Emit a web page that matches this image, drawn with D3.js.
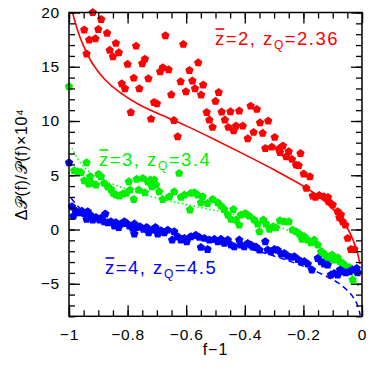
<!DOCTYPE html>
<html><head><meta charset="utf-8">
<script src="https://cdn.jsdelivr.net/npm/d3@7"></script>
<style>html,body{margin:0;padding:0;background:#fff;}svg{display:block;}</style>
</head><body>
<script>
// ---- data (x = f-1, y = ΔP/P ×10^4) ----
const xMajorTicks = [-1, -0.8, -0.6, -0.4, -0.2, 0];
const yMajorTicks = [-5, 0, 5, 10, 15, 20];
const legendLabels = [
  {zbar: "2", zq: "2.36", color: "#ff0000"},
  {zbar: "3", zq: "3.4", color: "#00f000"},
  {zbar: "4", zq: "4.5", color: "#0000ff"}
];
const redPoints = [[-0.919,20.0],[-0.89,19.37],[-0.948,18.4],[-0.9,18.45],[-0.87,18.1],[-0.931,17.47],[-0.91,17.59],[-0.84,17.16],[-0.861,16.52],[-0.83,16.3],[-0.85,15.93],[-0.94,16.18],[-0.771,16.91],[-0.671,17.86],[-0.8,15.23],[-0.741,15.71],[-0.75,15.28],[-0.68,14.91],[-0.689,14.54],[-0.66,14.73],[-0.779,13.96],[-0.729,13.9],[-0.82,13.44],[-0.809,12.98],[-0.76,12.98],[-0.651,12.42],[-0.71,11.72],[-0.7,11.6],[-0.789,10.8],
[-0.61,17.07],[-0.559,15.37],[-0.589,14.67],[-0.619,13.62],[-0.579,13.69],[-0.542,13.32],[-0.601,12.7],[-0.57,12.98],[-0.549,12.4],[-0.489,12.64],[-0.5,11.82],[-0.38,11.38],[-0.359,11.08],[-0.53,10.8],[-0.479,10.83],[-0.449,10.86],[-0.419,10.92],[-0.72,10.18],[-0.642,10.05],[-0.629,8.55],[-0.521,10.09],[-0.468,10.09],[-0.51,9.42],[-0.456,9.42],[-0.43,9.54],[-0.407,9.54],[-0.348,9.84],[-0.32,10.0],[-0.438,9.1],
[-0.298,8.5],[-0.37,8.96],[-0.39,8.37],[-0.339,8.87],[-0.33,7.48],[-0.308,7.6],[-0.284,7.42],[-0.27,7.7],[-0.28,7.11],[-0.259,6.71],[-0.25,7.17],[-0.239,6.47],[-0.225,5.94],[-0.216,5.9],[-0.21,7.02],[-0.199,5.12],[-0.178,4.87],[-0.19,3.8],[-0.168,3.09],[-0.146,3.15],[-0.13,3.02],[-0.116,2.97],[-0.159,2.97],[-0.114,2.56],[-0.1,2.26],[-0.083,1.64],[-0.072,1.34],[-0.077,1.09],[-0.066,0.72],[-0.057,0.41],[-0.049,-0.81],[-0.038,-1.83],[-0.026,-1.83]];
const greenPoints = [[-1.0,13.16],[-0.94,6.16],[-0.982,5.42],[-0.97,5.33],[-0.959,5.27],[-0.948,4.5],[-0.928,4.87],[-0.899,5.09],[-0.891,4.87],[-0.922,4.26],[-0.908,4.1],[-0.933,4.19],[-0.88,4.26],[-0.868,3.95],[-0.857,3.7],[-0.849,3.34],[-0.84,3.18],[-0.828,3.09],[-0.817,3.27],[-0.805,3.34],[-0.796,4.41],[-0.792,3.64],[-0.779,2.78],[-0.769,4.63],[-0.762,3.64],[-0.748,4.72],[-0.741,3.39],[-0.731,4.38],[-0.722,4.56],[-0.717,3.95],[-0.709,4.56],[-0.703,4.1],[-0.692,3.48],[-0.68,2.78],[-0.658,3.02],[-0.641,3.48],[-0.624,5.18],[-0.618,2.97],[-0.606,3.18],[-0.587,1.8],
[-0.584,3.34],[-0.572,3.39],[-0.561,3.18],[-0.55,2.47],[-0.544,3.02],[-0.527,2.41],[-0.51,2.78],[-0.492,2.47],[-0.481,2.16],[-0.47,1.86],[-0.458,1.34],[-0.439,1.86],[-0.447,0.94],[-0.43,0.88],[-0.419,0.41],[-0.413,1.34],[-0.398,1.49],[-0.385,1.24],[-0.368,0.88],[-0.356,0.51],[-0.35,-0.2],[-0.337,0.88],[-0.328,0.51],[-0.316,0.02],[-0.303,0.26],[-0.294,0.17],[-0.28,0.81],[-0.265,0.72],[-0.25,0.72],[-0.237,-0.05],[-0.225,-0.2],[-0.214,-0.41],[-0.205,-0.9],[-0.197,-0.66],[-0.185,-0.97],[-0.174,-1.22],[-0.163,-0.97],[-0.151,-1.43],[-0.14,-2.05],[-0.132,-2.2],[-0.123,-2.44],[-0.112,-2.66],[-0.102,-2.35],[-0.095,-2.81],[-0.083,-2.6],[-0.075,-2.97],[-0.066,-3.12],[-0.057,-3.36],[-0.043,-3.49],[-0.032,-4.65],[-0.123,-2.9],[-0.018,-3.89]];
const bluePoints = [[-1.0,6.16],[-0.99,2.1],[-0.978,1.73],[-0.985,1.24],[-0.965,1.55],[-0.956,1.7],[-0.948,1.49],[-0.936,1.64],[-0.94,0.94],[-0.928,1.34],[-0.919,0.88],[-0.908,1.12],[-0.896,0.88],[-0.887,1.12],[-0.876,1.43],[-0.88,0.72],[-0.868,0.63],[-0.857,0.72],[-0.845,0.32],[-0.84,0.63],[-0.83,0.2],[-0.823,0.51],[-0.811,0.72],[-0.803,0.57],[-0.794,0.32],[-0.783,0.11],[-0.777,0.51],[-0.769,0.2],[-0.777,-0.41],[-0.758,0.26],[-0.746,0.02],[-0.735,0.2],[-0.728,-0.3],[-0.717,-0.05],[-0.705,0.2],[-0.697,-0.41],[-0.686,-0.11],[-0.675,-0.3],[-0.663,-0.05],[-0.648,-0.97],[-0.641,-0.2],[-0.629,-0.66],[-0.618,-0.97],[-0.606,-0.81],[-0.598,-1.12],
[-0.584,-0.66],[-0.567,-0.51],[-0.555,-0.72],[-0.55,-1.64],[-0.538,-0.81],[-0.527,-1.83],[-0.521,-0.97],[-0.504,-0.9],[-0.492,-1.12],[-0.481,-0.9],[-0.47,-1.27],[-0.458,-0.97],[-0.447,-1.43],[-0.436,-1.58],[-0.419,-0.97],[-0.413,-1.43],[-0.402,-1.58],[-0.39,-1.27],[-0.379,-1.43],[-0.373,-1.58],[-0.362,-1.6],[-0.35,-1.89],[-0.33,-1.12],[-0.322,-1.89],[-0.311,-2.05],[-0.299,-1.83],[-0.288,-1.9],[-0.276,-2.26],[-0.265,-2.2],[-0.254,-2.44],[-0.242,-2.56],[-0.231,-2.5],[-0.219,-2.75],[-0.208,-2.97],[-0.197,-2.95],[-0.185,-3.18],[-0.171,-3.73],[-0.151,-2.66],[-0.14,-2.97],[-0.129,-3.18],[-0.117,-3.27],[-0.106,-4.19],[-0.095,-4.04],[-0.083,-4.19],[-0.075,-3.73],[-0.066,-3.89],[-0.055,-3.98],[-0.043,-3.89],[-0.032,-3.73],[-0.018,-3.58],[-0.015,-3.98]];
const redCurve = [[-0.988,20],[-0.97,18.3],[-0.95,16.9],[-0.92,15.3],[-0.88,13.9],[-0.83,12.7],[-0.76,11.5],[-0.68,10.5],[-0.6,9.55],[-0.5,8.25],[-0.4,6.9],[-0.3,5.5],[-0.2,4.0],[-0.15,3.1],[-0.1,1.9],[-0.06,0.6],[-0.03,-1.0],[-0.015,-2.2],[-0.007,-3.2]];
const greenCurve = [[-0.99,7.5],[-0.96,6.1],[-0.92,5.1],[-0.86,4.3],[-0.8,3.7],[-0.7,2.9],[-0.6,2.3],[-0.5,1.75],[-0.4,1.15],[-0.3,0.35],[-0.25,-0.1],[-0.2,-0.7],[-0.15,-1.5],[-0.1,-2.45],[-0.06,-3.3],[-0.03,-4.3],[-0.01,-5.4]];
const blueCurve = [[-0.993,2.9],[-0.96,1.9],[-0.9,1.0],[-0.8,0.3],[-0.7,-0.2],[-0.6,-0.65],[-0.49,-1.25],[-0.37,-1.9],[-0.26,-2.8],[-0.15,-3.95],[-0.08,-4.95],[-0.04,-5.9],[-0.018,-6.8],[-0.006,-7.9]];

// ---- layout ----
const W = 374, H = 374;
const L = 69, R = 362, T = 12.5, B = 316.3;
const x = d3.scaleLinear().domain([-1, 0]).range([L, R]);
const y = d3.scaleLinear().domain([-8, 20]).range([B, T]);

const svg = d3.select("body").append("svg").attr("width", W).attr("height", H);

svg.append("clipPath").attr("id", "clip").append("rect")
  .attr("x", L).attr("y", T).attr("width", R - L).attr("height", B - T);

// pentagon symbol
const pentagon = {
  draw(ctx, size) {
    const r = Math.sqrt(size / 2.378);
    for (let k = 0; k < 5; k++) {
      const a = -Math.PI / 2 + k * 2 * Math.PI / 5;
      const px = r * Math.cos(a), py = r * Math.sin(a);
      if (k === 0) ctx.moveTo(px, py); else ctx.lineTo(px, py);
    }
    ctx.closePath();
  }
};
const sym = d3.symbol().type(pentagon).size(2.378 * 4.4 * 4.4);

const line = d3.line().x(d => x(d[0])).y(d => y(d[1])).curve(d3.curveCatmullRom.alpha(0.5));

const series = [
  {pts: redPoints, curve: redCurve, color: "#ff0000", dash: null, w: 1.6},
  {pts: greenPoints, curve: greenCurve, color: "#00f000", dash: "1.5,2.5", w: 1.4},
  {pts: bluePoints, curve: blueCurve, color: "#0000ff", dash: "6,4", w: 1.5}
];

series.forEach(s => {
  svg.append("path").datum(s.curve)
    .attr("clip-path", "url(#clip)")
    .attr("d", line).attr("fill", "none")
    .attr("stroke", s.color).attr("stroke-width", s.w)
    .attr("stroke-dasharray", s.dash);
});
series.forEach(s => {
  svg.append("g").selectAll("path").data(s.pts).join("path")
    .attr("d", sym)
    .attr("transform", d => `translate(${x(d[0])},${y(d[1])})`)
    .attr("fill", s.color);
});

// ---- axes ----
const fmt = d => d3.format("")(d);
const xMinor = d3.range(-1, 0.001, 0.05).map(v => +v.toFixed(2));
const yMinor = d3.range(-8, 20.001, 1);
const font = "'Liberation Sans', Arial, sans-serif";

function styleAxis(g) {
  g.select(".domain").remove();
  g.selectAll("line").attr("stroke", "#000").attr("stroke-width", 1.3);
  g.selectAll("text").attr("font-family", font).attr("font-size", 15.5).attr("fill", "#000").attr("letter-spacing", 0.8);
}

svg.append("g").attr("transform", `translate(0,${B})`)
  .call(d3.axisBottom(x).tickValues(xMinor).tickSize(-6).tickFormat("")).call(styleAxis);
svg.append("g").attr("transform", `translate(0,${B})`)
  .call(d3.axisBottom(x).tickValues(xMajorTicks).tickSize(-11).tickPadding(13).tickFormat(fmt)).call(styleAxis);
svg.append("g").attr("transform", `translate(0,${T})`)
  .call(d3.axisTop(x).tickValues(xMinor).tickSize(-6).tickFormat("")).call(styleAxis);
svg.append("g").attr("transform", `translate(0,${T})`)
  .call(d3.axisTop(x).tickValues(xMajorTicks).tickSize(-11).tickFormat("")).call(styleAxis);
svg.append("g").attr("transform", `translate(${L},0)`)
  .call(d3.axisLeft(y).tickValues(yMinor).tickSize(-6).tickFormat("")).call(styleAxis);
svg.append("g").attr("transform", `translate(${L},0)`)
  .call(d3.axisLeft(y).tickValues(yMajorTicks).tickSize(-11).tickPadding(9).tickFormat(fmt)).call(styleAxis);
svg.append("g").attr("transform", `translate(${R},0)`)
  .call(d3.axisRight(y).tickValues(yMinor).tickSize(-6).tickFormat("")).call(styleAxis);
svg.append("g").attr("transform", `translate(${R},0)`)
  .call(d3.axisRight(y).tickValues(yMajorTicks).tickSize(-11).tickFormat("")).call(styleAxis);

svg.append("rect").attr("x", L).attr("y", T).attr("width", R - L).attr("height", B - T)
  .attr("fill", "none").attr("stroke", "#000").attr("stroke-width", 1.5);

// axis titles
svg.append("text").attr("x", (L + R) / 2).attr("y", 355)
  .attr("text-anchor", "middle").attr("font-family", font).attr("font-size", 16)
  .attr("letter-spacing", 1).text("f\u22121");
svg.append("text").attr("transform", `translate(27,${(T + B) / 2}) rotate(-90)`)
  .attr("text-anchor", "middle").attr("font-family", font).attr("font-size", 16)
  .attr("letter-spacing", 0.6)
  .text("Δ\u{1D4AB}(f)/\u{1D4AB}(f)×10⁴");

// legends
const legendPos = [[215, 45], [99, 166], [105, 274]];
legendLabels.forEach((lg, i) => {
  const [lx, ly] = legendPos[i];
  const t = svg.append("text").attr("x", lx).attr("y", ly)
    .attr("font-family", font).attr("font-size", 18.5).attr("fill", lg.color)
    .attr("letter-spacing", 1.5);
  t.append("tspan").text("z");
  t.append("tspan").text("=" + lg.zbar + ",  z");
  t.append("tspan").attr("dy", 4).attr("font-size", 12).text("Q");
  t.append("tspan").attr("dy", -4).text("=" + lg.zq);
  const ext = t.node().getExtentOfChar(0);
  svg.append("line").attr("x1", ext.x + 0.5).attr("x2", ext.x + ext.width - 1.5)
    .attr("y1", ly - 16).attr("y2", ly - 16)
    .attr("stroke", lg.color).attr("stroke-width", 1.6);
});
</script>
</body></html>
